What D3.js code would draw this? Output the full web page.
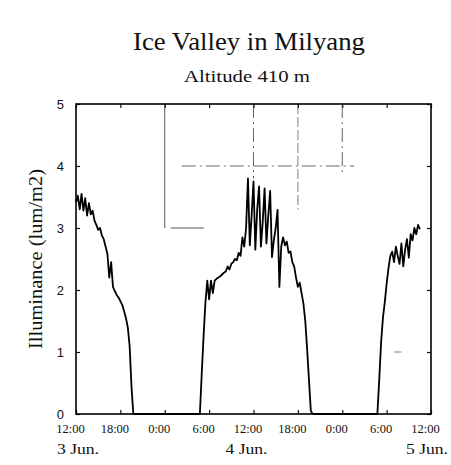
<!DOCTYPE html>
<html>
<head>
<meta charset="utf-8">
<script src="https://cdn.jsdelivr.net/npm/d3@7/dist/d3.min.js"></script>
<style>
  html, body { margin: 0; padding: 0; background: #fff; }
  svg { display: block; }
  .serif { font-family: "Liberation Serif", "Times New Roman", serif; fill: #111; }
  .sans { font-family: "Liberation Sans", Arial, sans-serif; fill: #111; }
</style>
</head>
<body>
<svg id="chart" width="451" height="465"></svg>
<script>
// Hours are counted from 12:00 on 3 June; readings every 15 minutes.
const step = 0.25;

// Afternoon of 3 June (starts 12:00)
const afternoon3Start = 0;
const afternoon3 = [3.42, 3.52, 3.30, 3.55, 3.28, 3.48, 3.20, 3.40, 3.22, 3.28,
  3.12, 3.05, 2.97, 3.00, 2.88, 2.82, 2.70, 2.58, 2.20, 2.45,
  2.05, 1.98, 1.92, 1.88, 1.82, 1.76, 1.66, 1.55, 1.40, 1.10,
  0.45, 0.00];

// Daytime of 4 June (starts 04:45)
const day4Start = 16.75;
const day4 = [0.00, 0.65, 1.25, 1.80, 2.15, 1.85, 2.15, 1.95, 2.15, 2.18,
  2.20, 2.22, 2.25, 2.28, 2.30, 2.38, 2.33, 2.42, 2.45, 2.50,
  2.48, 2.60, 2.55, 2.85, 2.70, 3.00, 3.80, 2.72, 3.20, 3.75,
  2.65, 3.30, 3.67, 2.70, 3.10, 3.64, 2.75, 3.20, 3.60, 2.53,
  2.80, 3.00, 3.29, 2.05, 2.70, 2.85, 2.72, 2.78, 2.60, 2.62,
  2.45, 2.38, 2.20, 2.05, 2.12, 1.95, 1.78, 1.50, 1.05, 0.55,
  0.05, 0.00];

// Morning of 5 June (starts 04:45)
const morning5Start = 40.75;
const morning5 = [0.00, 0.55, 1.15, 1.55, 1.80, 2.10, 2.35, 2.55, 2.62, 2.45,
  2.70, 2.55, 2.42, 2.75, 2.38, 2.65, 2.82, 2.52, 2.90, 2.80,
  3.00, 2.90, 3.05, 2.98];

const xTickHours = [0, 6, 12, 18, 24, 30, 36, 42, 48];
const xTickLabels = ["12:00", "18:00", "0:00", "6:00", "12:00", "18:00", "0:00", "6:00", "12:00"];
const dateHours = [0, 24, 48];
const dateLabels = ["3 Jun.", "4 Jun.", "5 Jun."];
const yTicks = [0, 1, 2, 3, 4, 5];

// Remnants of the faint grid: [hour1, value1, hour2, value2]
const gridSolid = [[12, 5, 12, 3], [12.8, 3, 17.3, 3]];
const gridDashDot = [[14.3, 4, 37.6, 4], [24, 5, 24, 3.8], [36, 5, 36, 3.9]];
const gridDashed = [[30, 5, 30, 3.3], [43, 1, 44, 1]];

const svg = d3.select("#chart");
const margin = { left: 76, right: 20, top: 104, bottom: 51 };
const W = 451, H = 465;

const x = d3.scaleLinear().domain([0, 48]).range([margin.left, W - margin.right]);
const y = d3.scaleLinear().domain([0, 5]).range([H - margin.bottom, margin.top]);

// Build one continuous series; nights are zero.
function toPoints(start, vals) {
  return vals.map((v, i) => ({ h: start + i * step, v }));
}
const series = [
  ...toPoints(afternoon3Start, afternoon3),
  ...toPoints(day4Start, day4),
  ...toPoints(morning5Start, morning5)
];

// Titles
svg.append("text").attr("class", "serif")
  .attr("x", 249).attr("y", 50)
  .attr("text-anchor", "middle").attr("font-size", 25)
  .attr("textLength", 232).attr("lengthAdjust", "spacingAndGlyphs")
  .text("Ice Valley in Milyang");
svg.append("text").attr("class", "serif")
  .attr("x", 247).attr("y", 82)
  .attr("text-anchor", "middle").attr("font-size", 17)
  .attr("textLength", 126).attr("lengthAdjust", "spacingAndGlyphs")
  .text("Altitude 410 m");

// Grid fragments
const grid = svg.append("g").attr("fill", "none");
grid.selectAll("line.s").data(gridSolid).join("line")
  .attr("x1", d => x(d[0])).attr("y1", d => y(d[1]))
  .attr("x2", d => x(d[2])).attr("y2", d => y(d[3]))
  .attr("stroke", "#555").attr("stroke-width", 1);
grid.selectAll("line.dd").data(gridDashDot).join("line")
  .attr("x1", d => x(d[0])).attr("y1", d => y(d[1]))
  .attr("x2", d => x(d[2])).attr("y2", d => y(d[3]))
  .attr("stroke", "#666").attr("stroke-width", 1)
  .attr("stroke-dasharray", "14,4,2,4");
grid.selectAll("line.d").data(gridDashed).join("line")
  .attr("x1", d => x(d[0])).attr("y1", d => y(d[1]))
  .attr("x2", d => x(d[2])).attr("y2", d => y(d[3]))
  .attr("stroke", "#999").attr("stroke-width", 1.2)
  .attr("stroke-dasharray", "10,3");

// Axes with inward ticks
const xAxis = d3.axisBottom(x).tickValues(xTickHours)
  .tickSize(-4).tickFormat((d, i) => xTickLabels[i]).tickPadding(10);
const gx = svg.append("g").attr("transform", `translate(0,${y(0)})`).call(xAxis);
gx.select(".domain").remove();
gx.selectAll("text").attr("class", "serif").attr("font-size", 12.5)
  .attr("dx", -6);

const xTop = d3.axisTop(x).tickValues(xTickHours).tickSize(-4).tickFormat("");
const gxt = svg.append("g").attr("transform", `translate(0,${y(5)})`).call(xTop);
gxt.select(".domain").remove();

const yAxis = d3.axisLeft(y).tickValues(yTicks).tickSize(-4).tickPadding(12)
  .tickFormat(d3.format("d"));
const gy = svg.append("g").attr("transform", `translate(${x(0)},0)`).call(yAxis);
gy.select(".domain").remove();
gy.selectAll("text").attr("class", "sans").attr("font-size", 13);

const yRight = d3.axisRight(y).tickValues(yTicks).tickSize(-4).tickFormat("");
const gyr = svg.append("g").attr("transform", `translate(${x(48)},0)`).call(yRight);
gyr.select(".domain").remove();

svg.selectAll(".tick line").attr("stroke", "#111").attr("stroke-width", 1.2);

// Date labels under the time labels
svg.append("g").selectAll("text").data(dateHours).join("text")
  .attr("class", "serif")
  .attr("x", (d, i) => x(d) + [2, -7, -4][i])
  .attr("y", y(0) + 40)
  .attr("text-anchor", "middle").attr("font-size", 15)
  .attr("textLength", 42).attr("lengthAdjust", "spacingAndGlyphs")
  .text((d, i) => dateLabels[i]);

// Y axis title
svg.append("text").attr("class", "serif")
  .attr("transform", `translate(42,${(y(0) + y(5)) / 2}) rotate(-90)`)
  .attr("text-anchor", "middle").attr("font-size", 18)
  .attr("textLength", 180).attr("lengthAdjust", "spacingAndGlyphs")
  .text("Illuminance (lum/m2)");

// Data line
const line = d3.line().x(d => x(d.h)).y(d => y(d.v));
svg.append("path").datum(series)
  .attr("fill", "none").attr("stroke", "#000")
  .attr("stroke-width", 1.8).attr("stroke-linejoin", "round")
  .attr("d", line);

// Frame
svg.append("rect")
  .attr("x", x(0)).attr("y", y(5))
  .attr("width", x(48) - x(0)).attr("height", y(0) - y(5))
  .attr("fill", "none").attr("stroke", "#000").attr("stroke-width", 1.6);
</script>
</body>
</html>
